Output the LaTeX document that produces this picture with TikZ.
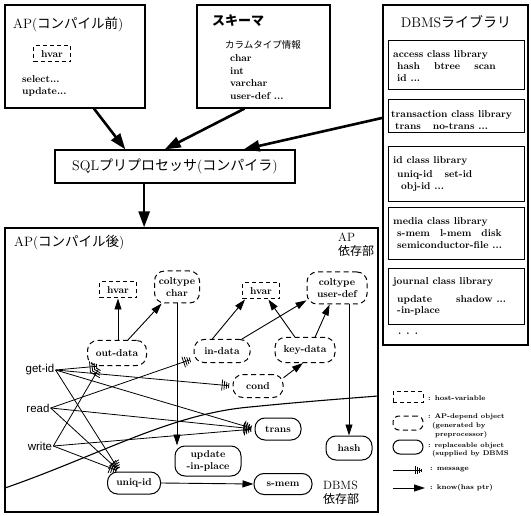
\documentclass[tikz,border=0pt]{standalone}
\usepackage{fontspec}
\newfontfamily\jpfont{Noto Sans CJK JP}
\newfontfamily\hvfont{Liberation Sans}
\usetikzlibrary{arrows.meta}
\usetikzlibrary{positioning}
\tikzset{
  box/.style={draw,line width=1.2pt,inner sep=0pt},
  libbox/.style={draw,line width=1pt,minimum width=136pt,inner sep=0pt},
  hostvar/.style={draw,line width=1pt,dash pattern=on 4pt off 3pt,minimum width=37pt,minimum height=16pt,inner sep=1pt},
  apobj/.style={draw,line width=1pt,dash pattern=on 5pt off 3.5pt,rounded corners=10pt,inner sep=1pt,align=center},
  repobj/.style={draw,line width=1pt,rounded corners=10pt,inner sep=1pt,align=center},
  know/.style={line width=0.9pt,-{Triangle[length=11pt,width=7pt]}},
  bigarrow/.style={line width=2.6pt,-{Triangle[length=16pt,width=11pt]}},
  msg/.style={line width=0.8pt,shorten >=2pt,-{Bar[width=11pt,sep=1.4pt]Bar[width=9pt,sep=1.4pt]Bar[width=7pt,sep=1.4pt]Bar[width=5pt,sep=1.4pt]}},
  txt/.style={anchor=west,inner sep=0pt},
  legtxt/.style={anchor=west,inner sep=0pt,align=left,font=\fontsize{7}{9}\selectfont\bfseries},
}

\begin{document}
\begin{tikzpicture}[x=1pt,y=-1pt,font=\fontsize{10}{12}\selectfont\bfseries]
\useasboundingbox (0,0) rectangle (531,516);

% AP before compile
\node[box,minimum width=140pt,minimum height=103pt] (apsrc) at (75,56.5) {};
\node[txt,font=\fontsize{13.5}{15}\selectfont] at (13,24) {AP({\jpfont コンパイル前})};
\node[hostvar] (hvar0) at (52,54) {hvar};
\node[txt,align=left] at (22,86) {select...\\update...};

% schema
\node[box,minimum width=133pt,minimum height=103pt] (schema) at (263.5,56.5) {};
\node[txt,font=\jpfont\bfseries\fontsize{13}{15}\selectfont] at (212,21) {スキーマ};
\node[txt,font=\jpfont\fontsize{9.5}{11}\selectfont] at (225,45) {カラムタイプ情報};
\node[txt,align=left,font=\fontsize{10}{12.7}\selectfont\bfseries] at (230,77) {char\\int\\varchar\\user-def ...};

% DBMS library
\node[box,minimum width=145pt,minimum height=340pt] (dbms) at (455.5,175) {};
\node[font=\fontsize{14}{16}\selectfont] at (456,22) {DBMS{\jpfont ライブラリ}};
\node[libbox,minimum height=49pt] (access) at (456,65.5) {};
\node[txt,align=left] at (393,66) {access class library\\\hspace{4pt}hash\hspace{14pt}btree\hspace{14pt}scan\\\hspace{4pt}id ...};
\node[libbox,minimum height=33pt] (transact) at (456,116.5) {};
\node[txt,align=left] at (391,120) {transaction class library\\\hspace{4pt}trans\hspace{12pt}no-trans ...};
\node[libbox,minimum height=55pt] (idlib) at (456,174.5) {};
\node[txt,align=left] at (393,174) {id class library\\[2pt]\hspace{4pt}uniq-id\hspace{12pt}set-id\\\hspace{8pt}obj-id ...};
\node[libbox,minimum height=52pt] (media) at (456,234) {};
\node[txt,align=left] at (393,233) {media class library\\\hspace{4pt}s-mem\hspace{10pt}l-mem\hspace{10pt}disk\\\hspace{4pt}semiconductor-file ...};
\node[libbox,minimum height=56pt] (journal) at (456,297) {};
\node[txt,align=left] at (393,297) {journal class library\\[5pt]\hspace{4pt}update\hspace{24pt}shadow ...\\\hspace{4pt}-in-place};
\node[txt] at (398,334) {. . .};

% preprocessor
\node[box,minimum width=240pt,minimum height=33pt,font=\fontsize{14}{16}\selectfont] (sql) at (175,166.5) {SQL{\jpfont プリプロセッサ}({\jpfont コンパイラ})};
\draw[bigarrow] (apsrc.290) -- (sql.161);
\draw[bigarrow] (schema.250) -- (sql.121);
\draw[bigarrow] (dbms.142) -- (sql.14);

% AP after compile
\node[box,minimum width=373pt,minimum height=284pt] (apdst) at (191.5,370) {};
\draw[bigarrow] (sql.209) -- (sql.209 |- apdst.north);
\node[txt,font=\fontsize{13.5}{15}\selectfont] at (14,243) {AP({\jpfont コンパイル後})};
\node[txt,align=left,font=\fontsize{12}{14}\selectfont] at (338,245) {AP\\{\jpfont 依存部}};
\node[txt,align=left,font=\fontsize{12}{14}\selectfont] at (323,493) {DBMS\\{\jpfont 依存部}};

\node[hostvar] (hvar1) at (118,290) {hvar};
\node[apobj,minimum width=45pt,minimum height=32pt] (colchar) at (177,287) {coltype\\char};
\node[hostvar] (hvar2) at (261,291) {hvar};
\node[apobj,minimum width=60pt,minimum height=32pt] (coluser) at (337,288) {coltype\\user-def};
\node[apobj,minimum width=59pt,minimum height=25pt] (outdata) at (117,353) {out-data};
\node[apobj,minimum width=56pt,minimum height=23pt] (indata) at (222,351) {in-data};
\node[apobj,minimum width=60pt,minimum height=25pt] (keydata) at (305,350) {key-data};
\node[apobj,minimum width=50pt,minimum height=23pt] (cond) at (258,386) {cond};
\node[repobj,minimum width=46pt,minimum height=22pt] (trans) at (278,429) {trans};
\node[repobj,minimum width=66pt,minimum height=30pt] (update) at (208,461) {update\\-in-place};
\node[repobj,minimum width=46pt,minimum height=24pt] (hash) at (349,448) {hash};
\node[repobj,minimum width=53pt,minimum height=22pt] (uniqid) at (134,483) {uniq-id};
\node[repobj,minimum width=58pt,minimum height=21pt] (smem) at (283,484) {s-mem};

\node[font=\hvfont\fontsize{11.5}{13}\selectfont,inner sep=1pt] (getid) at (40,370) {get-id};
\node[font=\hvfont\fontsize{11.5}{13}\selectfont,inner sep=1pt] (read) at (38,408) {read};
\node[font=\hvfont\fontsize{11.5}{13}\selectfont,inner sep=1pt] (write) at (40,446) {write};

% AP / DBMS border
\draw[line width=1.1pt] (5,488) .. controls (100,455) and (170,414) .. (250,407) .. controls (300,402) and (340,399) .. (378,396);

% know
\draw[know] (hvar1.south |- outdata.north) -- (hvar1.south);
\draw[know] (outdata.50) -- (colchar.227);
\draw[know] (colchar.south) -- (colchar.south |- update.north);
\draw[know] (indata.129) -- (hvar2.208);
\draw[know] (indata.31) -- (coluser.202);
\draw[know] (keydata.128) -- (hvar2.311);
\draw[know] (keydata.52) -- (coluser.246);
\draw[know] (cond.18) -- (keydata.261);
\draw[know] (hash.north |- coluser.south) -- (hash.north);
\draw[know] (uniqid.east) -- (smem.west);

% messages
\draw[msg] (getid.east) -- (outdata.218);
\draw[msg] (getid.east) -- (cond.west);
\draw[msg] (getid.east) -- (trans.west);
\draw[msg] (getid.east) -- (uniqid.141);
\draw[msg] (read.east) -- (indata.195);
\draw[msg] (read.east) -- (trans.west);
\draw[msg] (read.east) -- (uniqid.141);
\draw[msg] (write.east) -- (outdata.218);
\draw[msg] (write.east) -- (trans.west);
\draw[msg] (write.east) -- (uniqid.141);

% legend
\node[hostvar,minimum width=30pt,minimum height=11pt] (lhost) at (408,397) {};
\node[legtxt] at (428,398) {: host-variable};
\node[apobj,minimum width=30pt,minimum height=14pt,rounded corners=6pt] (lapobj) at (408,423) {};
\node[legtxt,font=\fontsize{6.8}{8.6}\selectfont\bfseries] at (428,426) {: AP-depend object\\\hspace{4pt}(generated by\\\hspace{7pt}preprocessor)};
\node[repobj,minimum width=30pt,minimum height=14pt,rounded corners=7pt] (lrepobj) at (408,447) {};
\node[legtxt,font=\fontsize{6.8}{8.6}\selectfont\bfseries] at (428,450) {: replaceable object\\\hspace{4pt}(supplied by DBMS};
\coordinate (lmsgA) at (393,470);
\coordinate (lmsgB) at (425,470);
\draw[line width=0.8pt,shorten >=2pt,-{Bar[width=8pt,sep=1.2pt]Bar[width=7pt,sep=1.2pt]Bar[width=5pt,sep=1.2pt]Bar[width=3pt,sep=1.2pt]}] (lmsgA) -- (lmsgB);
\node[legtxt] at (430,470) {: message};
\coordinate (lknowA) at (393,488);
\coordinate (lknowB) at (425,488);
\draw[know] (lknowA) -- (lknowB);
\node[legtxt] at (430,488) {: know(has ptr)};

\end{tikzpicture}
\end{document}
